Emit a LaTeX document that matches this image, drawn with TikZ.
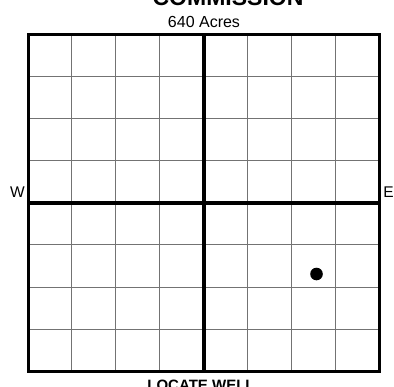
\documentclass[tikz,border=0pt]{standalone}
\usepackage{fontspec}
\setmainfont{Liberation Sans}
\begin{document}
\begin{tikzpicture}[x=1pt,y=-1pt,
  gridline/.style={draw=black!55,line width=0.9pt},
  outerline/.style={draw=black,line width=3pt},
  midline/.style={draw=black,line width=4pt},
  lbl/.style={inner sep=0pt,anchor=base}]
\useasboundingbox (0,0) rectangle (394,386);
\clip (0,0) rectangle (394,386);
% thin grid
\foreach \i in {1,2,3,5,6,7} {
  \draw[gridline] ({28+\i*43.9375},34) -- ({28+\i*43.9375},371.5);
  \draw[gridline] (28,{34+\i*42.1875}) -- (379.5,{34+\i*42.1875});
}
% middle cross
\draw[midline] (203.75,34) -- (203.75,371.5);
\draw[midline] (28,202.75) -- (379.5,202.75);
% outer frame
\draw[outerline] (28,34) rectangle (379.5,371.5);
% well
\fill (316.5,274) circle (6.3);
% labels
\node[lbl,font=\fontsize{23}{23}\selectfont\bfseries] (title) at (228,5.5) {COMMISSION};
\node[lbl,font=\fontsize{16}{16}\selectfont] (acres) at (204,27) {640 Acres};
\node[lbl,font=\fontsize{15.5}{15.5}\selectfont] (w) at (17.5,197.5) {W};
\node[lbl,font=\fontsize{15.5}{15.5}\selectfont] (e) at (388.5,197.5) {E};
\node[lbl,font=\fontsize{15}{15}\selectfont\bfseries] (loc) at (201,390) {LOCATE WELL};
\end{tikzpicture}
\end{document}
